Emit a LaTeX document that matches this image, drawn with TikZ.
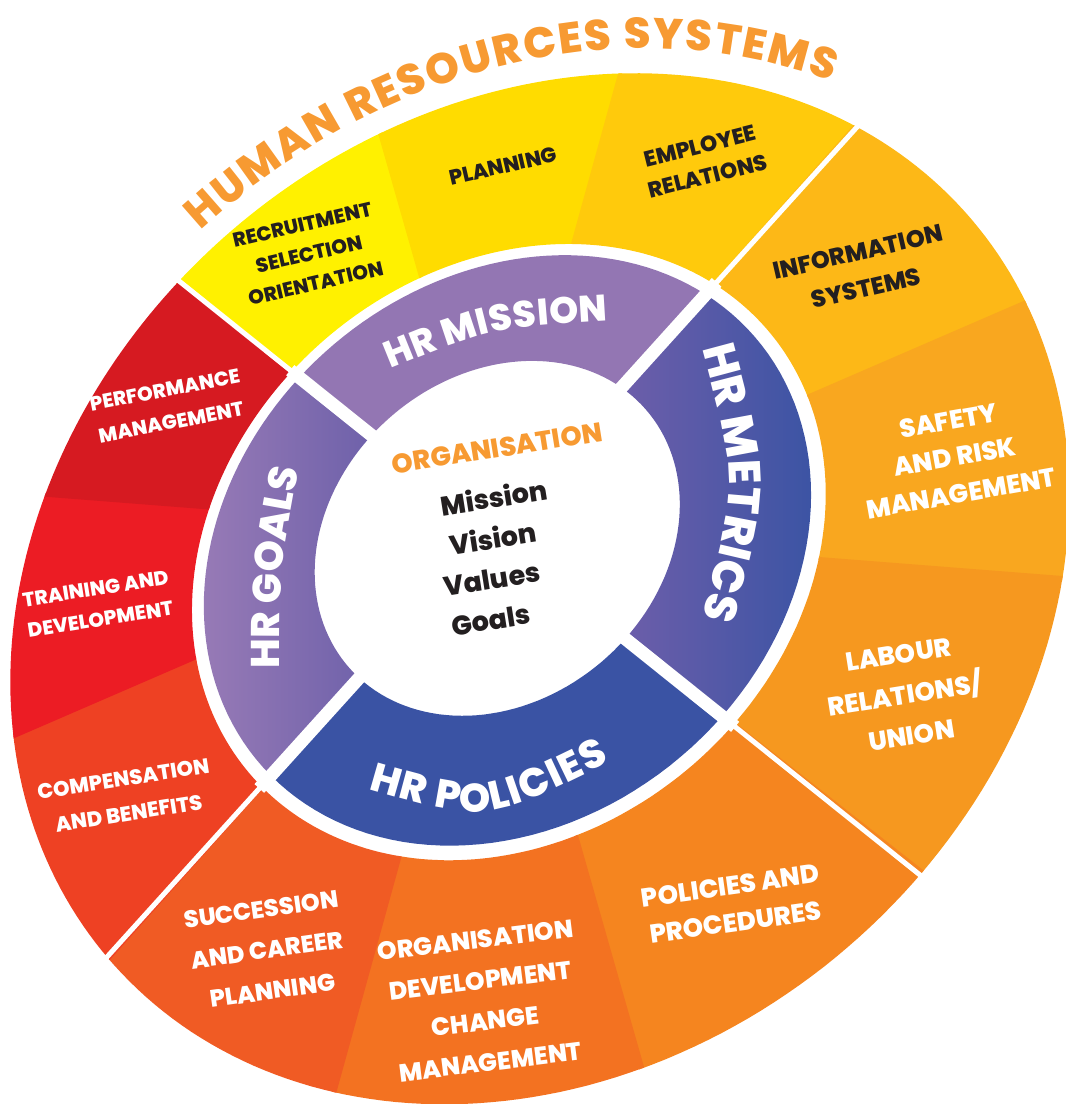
\documentclass[tikz,border=0pt]{standalone}
\usepackage{fontspec}
\setmainfont{Poppins}[BoldFont={* ExtraBold}]
\usetikzlibrary{decorations.text}
\definecolor{recruitcol}{HTML}{FFF100}
\definecolor{plancol}{HTML}{FFDC00}
\definecolor{emplcol}{HTML}{FFCA0C}
\definecolor{infocol}{HTML}{FDB817}
\definecolor{safecol}{HTML}{F9A71F}
\definecolor{labcol}{HTML}{F6981F}
\definecolor{polcol}{HTML}{F5851F}
\definecolor{orgcol}{HTML}{F37221}
\definecolor{succcol}{HTML}{F05B24}
\definecolor{compcol}{HTML}{EE4123}
\definecolor{traincol}{HTML}{EC1C24}
\definecolor{perfcol}{HTML}{D61A21}
\definecolor{missioncol}{HTML}{9376B3}
\definecolor{metricsA}{HTML}{6D5EAA}
\definecolor{metricsB}{HTML}{3C54A4}
\definecolor{policycol}{HTML}{3A53A4}
\definecolor{goalsA}{HTML}{977AB6}
\definecolor{goalsB}{HTML}{6E61AA}
\definecolor{hrorange}{HTML}{F79A32}
\definecolor{inkcol}{HTML}{231F20}
\tikzset{
  declare function={
    wd(\r,\p)=1.025965-0.095227*\r*cos(\p)+0.131947*\r*sin(\p);
    wx(\r,\p)=(504.25+487.27*\r*cos(\p)+74.53*\r*sin(\p))/wd(\r,\p);
    wy(\r,\p)=(545.295-141.31*\r*cos(\p)-440.93*\r*sin(\p))/wd(\r,\p);
  },
  darklabel/.style={align=center,text=inkcol},
  lightlabel/.style={align=center,text=white},
  corelabel/.style={text=inkcol,rotate=9,font=\bfseries\fontsize{27}{27}\selectfont},
  ringtext/.style={decorate,decoration={text along path,text align=fit to path,text color=white,text={#1}}}
}
\begin{document}
\begin{tikzpicture}[x=1pt,y=-1pt]
\useasboundingbox (0,0) rectangle (1066,1104);

\foreach \a/\b/\c in {105/135/recruitcol,75/105/plancol,45/75/emplcol,15/45/infocol,-15/15/safecol,-45/-15/labcol,-75/-45/polcol,-105/-75/orgcol,-135/-105/succcol,195/225/compcol,165/195/traincol,135/165/perfcol}
  \fill[\c] plot[domain=\a:\b+0.5,samples=24] ({wx(1,\x)},{wy(1,\x)})
    -- plot[domain=\b+0.5:\a,samples=24] ({wx(0.605,\x)},{wy(0.605,\x)}) -- cycle;

\fill[missioncol] plot[domain=45:135,samples=40] ({wx(0.58,\x)},{wy(0.58,\x)})
  -- plot[domain=135:45,samples=40] ({wx(0.35,\x)},{wy(0.35,\x)}) -- cycle;
\shade[left color=metricsA,right color=metricsB] plot[domain=-45:45,samples=40] ({wx(0.58,\x)},{wy(0.58,\x)})
  -- plot[domain=45:-45,samples=40] ({wx(0.35,\x)},{wy(0.35,\x)}) -- cycle;
\fill[policycol] plot[domain=-135:-45,samples=40] ({wx(0.58,\x)},{wy(0.58,\x)})
  -- plot[domain=-45:-135,samples=40] ({wx(0.35,\x)},{wy(0.35,\x)}) -- cycle;
\shade[left color=goalsA,right color=goalsB] plot[domain=135:225,samples=40] ({wx(0.58,\x)},{wy(0.58,\x)})
  -- plot[domain=225:135,samples=40] ({wx(0.35,\x)},{wy(0.35,\x)}) -- cycle;

\foreach \p in {45,135,225,315}{
  \draw[white,line width=13pt] ({wx(0.3,\p)},{wy(0.3,\p)}) -- ({wx(0.61,\p)},{wy(0.61,\p)});
  \draw[white,line width=5pt] ({wx(0.6,\p)},{wy(0.6,\p)}) -- ({wx(1.02,\p)},{wy(1.02,\p)});
}

\path[decorate,decoration={text along path,text align=fit to path,text color=hrorange,
  text={|\bfseries\fontsize{43}{43}\selectfont|HUMAN RESOURCES SYSTEMS}}]
  plot[domain=129:51,samples=60] ({wx(1.06,\x)},{wy(1.06,\x)});

\path[ringtext={|\bfseries\fontsize{37}{37}\selectfont|HR MISSION}] (390,369) .. controls (491,328) .. (608,321);
\path[ringtext={|\bfseries\fontsize{45}{45}\selectfont|HR METRICS}] (702,348) .. controls (738,482) .. (702,617);
\path[ringtext={|\bfseries\fontsize{40}{40}\selectfont|HR POLICIES}] (368,789) .. controls (486,823) .. (610,762);
\path[ringtext={|\bfseries\fontsize{40}{40}\selectfont|HR GOALS}] (280,668) .. controls (280,570) .. (298,472);

\node[text=hrorange,rotate=9,font=\bfseries\fontsize{27}{27}\selectfont] (org) at (497,448) {ORGANISATION};
\node[corelabel] (mission) at (494,497) {Mission};
\node[corelabel] (vision) at (493,538) {Vision};
\node[corelabel] (values) at (492,579) {Values};
\node[corelabel] (goals) at (491,620) {Goals};

\node[darklabel,rotate=13,font=\bfseries\fontsize{20}{30}\selectfont] (recruit) at (309,254) {RECRUITMENT\\SELECTION\\ORIENTATION};
\node[darklabel,rotate=13,font=\bfseries\fontsize{21}{30}\selectfont] (planning) at (503,166) {PLANNING};
\node[darklabel,rotate=14,font=\bfseries\fontsize{22}{31}\selectfont] (employee) at (704,161) {EMPLOYEE\\RELATIONS};
\node[darklabel,rotate=13,font=\bfseries\fontsize{24}{37}\selectfont] (infosys) at (862,270) {INFORMATION\\SYSTEMS};
\node[lightlabel,rotate=10,font=\bfseries\fontsize{26}{37}\selectfont] (safety) at (955,457) {SAFETY\\AND RISK\\MANAGEMENT};
\node[lightlabel,rotate=9,font=\bfseries\fontsize{26}{41}\selectfont] (labour) at (905,695) {LABOUR\\RELATIONS/\\UNION};
\node[lightlabel,rotate=8,font=\bfseries\fontsize{26}{37}\selectfont] (policies) at (733,904) {POLICIES AND\\PROCEDURES};
\node[lightlabel,rotate=7,font=\bfseries\fontsize{25}{41}\selectfont] (orgdev) at (483,1001) {ORGANISATION\\DEVELOPMENT\\CHANGE\\MANAGEMENT};
\node[lightlabel,rotate=8,font=\bfseries\fontsize{24}{41}\selectfont] (succession) at (267,950) {SUCCESSION\\AND CAREER\\PLANNING};
\node[lightlabel,rotate=9,font=\bfseries\fontsize{21}{35}\selectfont] (compensation) at (126,796) {COMPENSATION\\AND BENEFITS};
\node[lightlabel,rotate=9,font=\bfseries\fontsize{20}{31}\selectfont] (training) at (98,604) {TRAINING AND\\DEVELOPMENT};
\node[lightlabel,rotate=11,font=\bfseries\fontsize{20}{33}\selectfont] (performance) at (168,406) {PERFORMANCE\\MANAGEMENT};
\end{tikzpicture}
\end{document}
